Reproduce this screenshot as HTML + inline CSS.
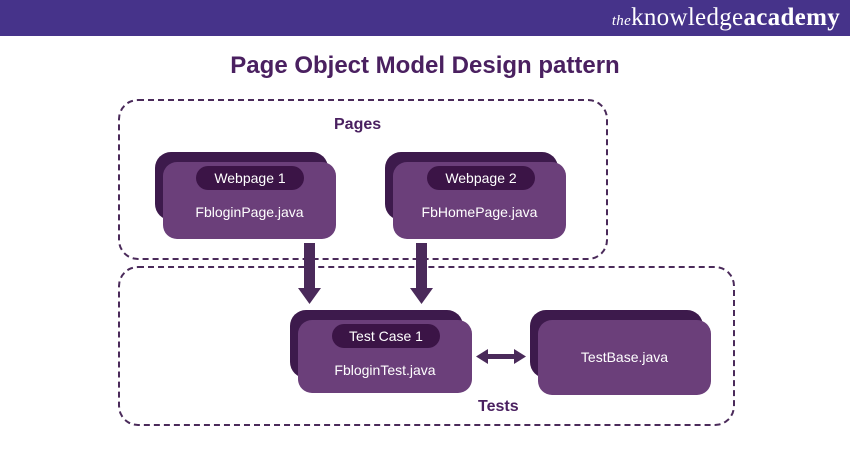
<!DOCTYPE html>
<html><head><style>
body{margin:0;width:850px;height:450px;background:#fff;position:relative;overflow:hidden;font-family:"Liberation Sans",sans-serif}
.hdr{position:absolute;left:0;top:0;width:850px;height:36px;background:#46338a}
.logo{position:absolute;right:10px;top:4px;color:#fff;font-family:"Liberation Serif",serif;font-size:25px;letter-spacing:0.3px}
.logo i{font-size:15px}
.logo b{font-weight:bold}
.title{position:absolute;left:0;width:850px;top:52px;text-align:center;font-size:24px;font-weight:bold;color:#4a2060}
.box{position:absolute;border:2px dashed #4a2a5a;border-radius:20px}
.lbl{position:absolute;font-weight:bold;font-size:16px;color:#4a2060}
.back{position:absolute;background:#3d1a4c;border-radius:16px}
.front{position:absolute;background:#6b3f7a;border-radius:14px;color:#fff;font-size:14px;text-align:center}
.pill{position:absolute;background:#3b1446;border-radius:12px;color:#fff;font-size:14px;text-align:center;line-height:24px}
</style></head><body>
<div class="hdr"><div class="logo"><i>the</i>knowledge<b>academy</b></div></div>
<div class="title">Page Object Model Design pattern</div>
<div class="box" style="left:118px;top:99px;width:486px;height:157px"></div>
<div class="box" style="left:118px;top:266px;width:613px;height:156px"></div>
<div class="lbl" style="left:334px;top:116px">Pages</div>
<div class="lbl" style="left:478px;top:398px">Tests</div>

<div class="back" style="left:155px;top:152px;width:173px;height:68px"></div>
<div class="front" style="left:163px;top:162px;width:173px;height:77px"><div style="position:absolute;top:42px;width:100%">FbloginPage.java</div></div>
<div class="pill" style="left:196px;top:166px;width:108px">Webpage 1</div>

<div class="back" style="left:385px;top:152px;width:173px;height:68px"></div>
<div class="front" style="left:393px;top:162px;width:173px;height:77px"><div style="position:absolute;top:42px;width:100%">FbHomePage.java</div></div>
<div class="pill" style="left:427px;top:166px;width:108px">Webpage 2</div>

<div class="back" style="left:290px;top:310px;width:173px;height:68px"></div>
<div class="front" style="left:298px;top:320px;width:174px;height:73px"><div style="position:absolute;top:42px;width:100%">FbloginTest.java</div></div>
<div class="pill" style="left:332px;top:324px;width:108px">Test Case 1</div>

<div class="back" style="left:530px;top:310px;width:173px;height:68px"></div>
<div class="front" style="left:538px;top:320px;width:173px;height:75px"><div style="position:absolute;top:29px;width:100%">TestBase.java</div></div>

<svg style="position:absolute;left:0;top:0" width="850" height="450">
<g fill="#4a2a5a">
<rect x="304" y="243" width="11" height="45"/><polygon points="298,288 321,288 309.5,304"/>
<rect x="416" y="243" width="11" height="45"/><polygon points="410,288 433,288 421.5,304"/>
<rect x="486" y="354" width="30" height="5"/><polygon points="476,356.5 488,349 488,364"/><polygon points="526,356.5 514,349 514,364"/>
</g></svg>
</body></html>
